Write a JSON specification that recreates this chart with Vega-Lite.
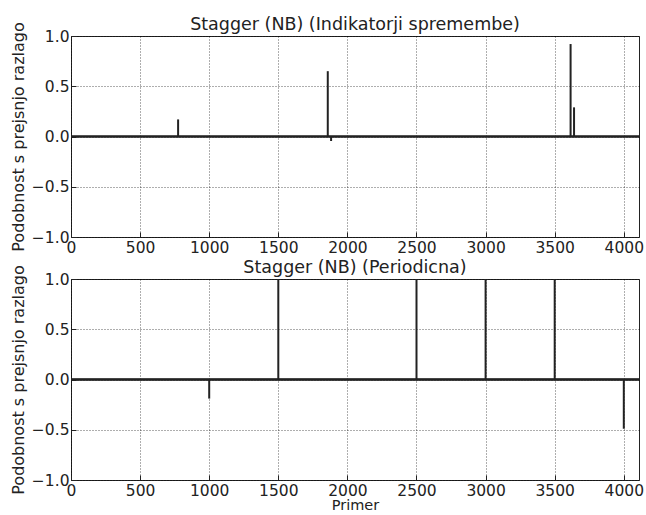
{
  "$schema": "https://vega.github.io/schema/vega-lite/v6.json",
  "background": "white",
  "padding": {"left": 9, "top": 15, "right": 2, "bottom": 0},
  "spacing": 2,
  "config": {
    "font": "DejaVu Sans",
    "view": {"stroke": "#222", "strokeWidth": 1},
    "title": {"font": "DejaVu Sans", "fontSize": 17.5, "fontWeight": "normal", "color": "#222", "offset": -12},
    "axis": {
      "labelFont": "DejaVu Sans", "labelFontSize": 15.5, "labelColor": "#222",
      "titleFont": "DejaVu Sans", "titleFontSize": 16, "titleFontWeight": "normal", "titleColor": "#222",
      "domain": false, "tickColor": "#222", "tickSize": -5, "labelPadding": 9,
      "gridColor": "#000", "gridDash": [1, 2], "gridOpacity": 0.8, "gridWidth": 0.8
    }
  },
  "datasets": {
    "spikes": [
      {"panel": "top", "x": 775, "y": 0.17},
      {"panel": "top", "x": 1858, "y": 0.65},
      {"panel": "top", "x": 1882, "y": -0.045},
      {"panel": "top", "x": 3615, "y": 0.92},
      {"panel": "top", "x": 3640, "y": 0.29},
      {"panel": "bottom", "x": 1000, "y": -0.19},
      {"panel": "bottom", "x": 1500, "y": 1.0},
      {"panel": "bottom", "x": 2500, "y": 1.0},
      {"panel": "bottom", "x": 3000, "y": 1.0},
      {"panel": "bottom", "x": 3500, "y": 1.0},
      {"panel": "bottom", "x": 4000, "y": -0.49}
    ]
  },
  "vconcat": [
    {
      "title": "Stagger (NB) (Indikatorji spremembe)",
      "width": 568, "height": 201,
      "data": {"name": "spikes"},
      "transform": [{"filter": "datum.panel === 'top'"}],
      "layer": [
        {
          "mark": {"type": "rule", "color": "#222", "strokeWidth": 2},
          "encoding": {
            "x": {"field": "x", "type": "quantitative", "scale": {"domain": [0, 4110], "nice": false},
                  "axis": {"values": [0, 500, 1000, 1500, 2000, 2500, 3000, 3500, 4000], "format": "d", "title": null, "labelFlush": false, "labelPadding": 8}},
            "y": {"field": "y", "type": "quantitative", "scale": {"domain": [-1, 1], "nice": false},
                  "axis": {"values": [-1, -0.5, 0, 0.5, 1], "format": ".1f", "title": "Podobnost s prejsnjo razlago", "labelFlush": false, "labelPadding": 7, "titlePadding": 5}},
            "y2": {"datum": 0}
          }
        },
        {
          "mark": {"type": "rule", "color": "#222", "strokeWidth": 1.5},
          "encoding": {"y": {"datum": 0, "type": "quantitative"}}
        }
      ]
    },
    {
      "title": "Stagger (NB) (Periodicna)",
      "width": 568, "height": 201,
      "data": {"name": "spikes"},
      "transform": [{"filter": "datum.panel === 'bottom'"}],
      "layer": [
        {
          "mark": {"type": "rule", "color": "#222", "strokeWidth": 2},
          "encoding": {
            "x": {"field": "x", "type": "quantitative", "scale": {"domain": [0, 4110], "nice": false},
                  "axis": {"values": [0, 500, 1000, 1500, 2000, 2500, 3000, 3500, 4000], "format": "d", "title": "Primer", "labelFlush": false, "labelPadding": 8, "titlePadding": 0, "titleFontSize": 14.5}},
            "y": {"field": "y", "type": "quantitative", "scale": {"domain": [-1, 1], "nice": false},
                  "axis": {"values": [-1, -0.5, 0, 0.5, 1], "format": ".1f", "title": "Podobnost s prejsnjo razlago", "labelFlush": false, "labelPadding": 7, "titlePadding": 5}},
            "y2": {"datum": 0}
          }
        },
        {
          "mark": {"type": "rule", "color": "#222", "strokeWidth": 1.5},
          "encoding": {"y": {"datum": 0, "type": "quantitative"}}
        }
      ]
    }
  ]
}
